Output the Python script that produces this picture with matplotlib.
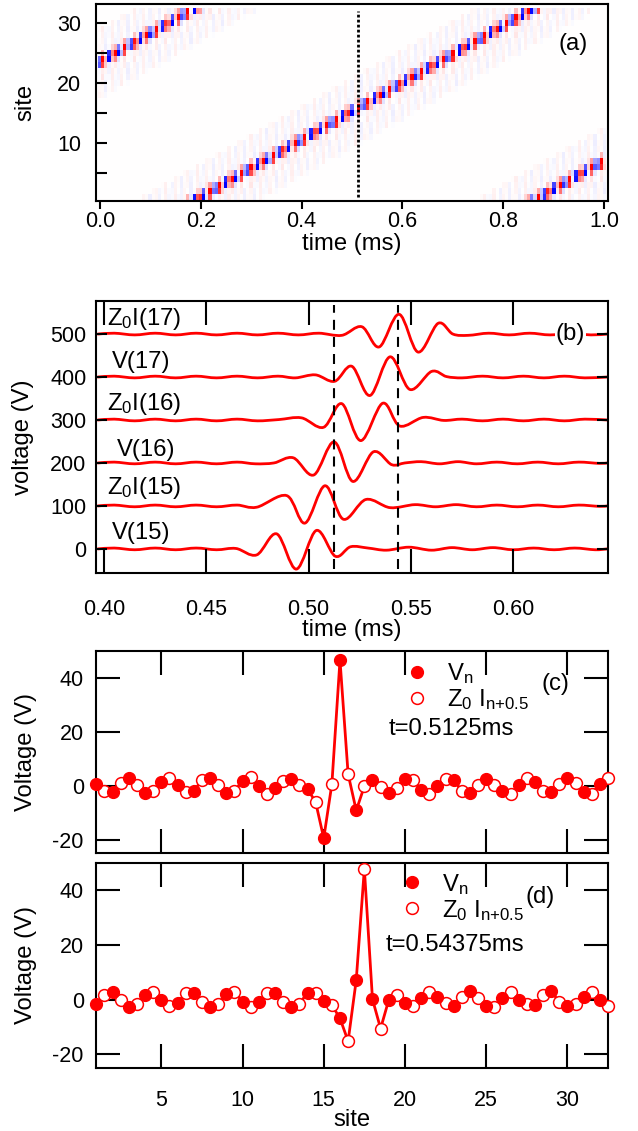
import numpy as np
import matplotlib
matplotlib.use("Agg")
import matplotlib.pyplot as plt
from matplotlib.path import Path
from matplotlib.patches import PathPatch
from matplotlib.lines import Line2D

plt.rcParams['font.family'] = ['Liberation Sans', 'DejaVu Sans']
plt.rcParams['mathtext.default'] = 'regular'
plt.rcParams['axes.unicode_minus'] = False
FS = 15.5     # tick labels
FL = 17.2     # axis labels and annotations

# ---------------- data ----------------
# panel (b): time traces (ms, V relative to offset)
t_V15 = [0.397, 0.405, 0.415, 0.425, 0.435, 0.445, 0.455, 0.4645, 0.4746, 0.4844, 0.4940, 0.5038, 0.5130,
         0.5205, 0.529, 0.538, 0.549, 0.560, 0.570, 0.580, 0.590, 0.600, 0.610, 0.620, 0.630, 0.640, 0.646]
v_V15 = [0, 2, -2, 2, -2, 2, -2, 1, -14, 35, -47, 43, -17,
         5, 2, -3, 4, -3, 3, -2, 3, -2, 2, -2, 2, -2, 0]

t_I15 = [0.397, 0.405, 0.415, 0.425, 0.435, 0.445, 0.455, 0.465, 0.4746, 0.4893, 0.4982, 0.5080, 0.5170,
         0.5280, 0.5398, 0.552, 0.562, 0.572, 0.582, 0.592, 0.602, 0.612, 0.622, 0.632, 0.642, 0.646]
v_I15 = [0, 2, -2, 2, -2, 2, -2, 2, -3, 24, -40, 47, -31,
         15, -4, 3, -2, 3, -2, 2, -2, 2, -2, 2, -1, 0]

t_V16 = [0.397, 0.405, 0.415, 0.425, 0.435, 0.445, 0.455, 0.465, 0.474, 0.483, 0.4925, 0.5025, 0.5125,
         0.5216, 0.5317, 0.5406, 0.547, 0.555, 0.564, 0.573, 0.582, 0.592, 0.602, 0.612, 0.622, 0.632,
         0.642, 0.646]
v_V16 = [0, 2, -2, 2, -2, 2, -2, 2, -2, 0, 12, -28, 49,
         -43, 26, -4, 0, 3, -2, 3, -2, 2, -2, 2, -2, 2, -1, 0]

t_I16 = [0.397, 0.405, 0.415, 0.425, 0.435, 0.445, 0.455, 0.465, 0.475, 0.4855, 0.4965, 0.5073, 0.5162,
         0.5255, 0.5362, 0.5445, 0.5560, 0.566, 0.575, 0.585, 0.595, 0.605, 0.615, 0.625, 0.635, 0.646]
v_I16 = [0, 2, -2, 2, -2, 2, -2, 2, -2, 1, 5, -17, 38,
         -48, 39, -14, 6, -1, 2, -2, 2, -2, 2, -2, 2, 0]

t_V17 = [0.397, 0.405, 0.415, 0.425, 0.435, 0.445, 0.455, 0.465, 0.475, 0.485, 0.4935, 0.5033, 0.5127,
         0.5211, 0.5300, 0.5398, 0.5495, 0.5601, 0.5674, 0.575, 0.585, 0.595, 0.605, 0.615, 0.625, 0.635,
         0.646]
v_V17 = [0, 2, -2, 2, -2, 2, -2, 2, -2, 2, -2, 5, -10,
         25, -43, 47, -29, 13, 1, -2, 2, -2, 2, -2, 2, -2, 0]

t_I17 = [0.397, 0.405, 0.415, 0.425, 0.435, 0.445, 0.455, 0.465, 0.475, 0.485, 0.495, 0.505, 0.5162,
         0.5260, 0.5345, 0.5442, 0.5535, 0.5633, 0.5705, 0.578, 0.588, 0.598, 0.608, 0.618, 0.628, 0.638,
         0.646]
v_I17 = [0, 2, -2, 2, -2, 2, -2, 2, -2, 2, -2, 2, -3,
         17, -30, 46, -42, 25, 0, -3, 2, -2, 2, -2, 2, -2, 0]

trace_offsets = [0, 100, 200, 300, 400, 500]
trace_labels = ['V(15)', 'Z$_0$I(15)', 'V(16)', 'Z$_0$I(16)', 'V(17)', 'Z$_0$I(17)']
marker_times = [0.5125, 0.54375]

# panels (c),(d): site profiles
sites = np.arange(1, 33)
half_sites = sites + 0.5
V_c = [0.5, -2.3, 2.9, -2.7, 1.2, 0.4, -1.9, 2.9, -2.7, 1.7, -0.2, -1.0, 2.5, -1.2, -19.5, 46.6,
       -9.2, 2.0, -2.7, 2.4, -1.5, -0.1, 2.0, -2.7, 2.6, -1.8, 0.2, 1.2, -2.5, 3.0, -2.3, 0.8]
I_c = [-2.1, 1.0, 0.4, -1.9, 2.9, -2.5, 2.0, 0.3, -1.9, 3.1, -3.0, 1.9, 0.4, -6.1, 0.6, 4.3,
       -0.2, -0.4, -1.0, 2.1, -3.1, 2.6, -1.9, 0.4, 0.1, -3.1, 2.9, -2.1, 0.6, 1.1, -3.0, 3.0]
V_d = [-1.6, 2.9, -2.6, 1.6, -0.2, -1.2, 2.3, -2.6, 2.0, -0.8, -0.8, 2.3, -2.6, 2.5, -0.5, -6.9,
       7.1, 0.1, -0.2, -1.4, 0.4, 0.8, -2.2, 3.1, -2.2, 0.7, 0.0, -2.0, 3.1, -2.2, 0.8, -0.2]
I_d = [1.6, -0.2, -1.8, 2.9, -2.4, 2.3, -0.8, -1.5, 2.9, -2.6, 2.5, -0.8, -1.6, 2.5, -2.0, -15.2,
       47.7, -10.6, 1.6, -2.4, 2.8, -1.4, 0.9, 0.7, -2.6, 2.9, -1.5, 1.6, -0.9, -1.5, 2.9, -2.4]

# panel (a): heat map built from the V(16) trace moving through the ring of 32 sites
heat_times = np.arange(161) * 0.00625          # sampling times (ms)
site_delay = 0.021                              # ms per site
ref_site = 16

# ---------------- helpers ----------------
def smooth_path(x, y):
    pts = np.column_stack([x, y]).astype(float)
    p = np.vstack([pts[0], pts, pts[-1]])
    verts = [pts[0]]
    codes = [Path.MOVETO]
    for i in range(1, len(p) - 2):
        p0, p1, p2, p3 = p[i - 1], p[i], p[i + 1], p[i + 2]
        verts += [p1 + (p2 - p0) / 6.0, p2 - (p3 - p1) / 6.0, p2]
        codes += [Path.CURVE4] * 3
    return Path(verts, codes)

def style_spines(ax):
    for s in ax.spines.values():
        s.set_linewidth(1.5)

# ---------------- figure ----------------
fig = plt.figure(figsize=(6.38, 11.31), dpi=100)
L, W = 0.151, 0.802
axa = fig.add_axes([L, 0.8223, W, 0.1742])
axb = fig.add_axes([L, 0.4934, W, 0.2405])
axc = fig.add_axes([L, 0.2458, W, 0.1786])
axd = fig.add_axes([L, 0.0557, W, 0.1817])

# ----- (a)
period = 32 * site_delay
grid = np.array([np.interp(heat_times - (n - ref_site) * site_delay, t_V16, v_V16, period=period)
                 for n in sites])
dt = heat_times[1] - heat_times[0]
axa.imshow(grid, cmap='bwr', vmin=-30, vmax=30, aspect='auto', origin='lower',
           extent=[heat_times[0] - dt / 2, heat_times[-1] + dt / 2, 0.5, 32.5],
           interpolation='nearest')
axa.plot([marker_times[0], marker_times[0]], [1, 32], color='black', lw=2.0, dashes=(1, 0.8))
axa.set_xlim(-0.0073, 1.0079)
axa.set_ylim(0.35, 33.2)
axa.set_xticks(np.arange(0, 1.01, 0.2))
axa.set_xticklabels(['0.0', '0.2', '0.4', '0.6', '0.8', '1.0'])
axa.set_yticks([5, 10, 15, 20, 25, 30])
axa.set_yticklabels(['', '10', '', '20', '', '30'])
axa.tick_params(axis='x', direction='out', length=6, width=1.5, labelsize=FS, pad=1, top=False)
axa.tick_params(axis='y', direction='in', length=8, width=1.5, labelsize=FS, pad=11, right=False)
axa.set_xlabel('time (ms)', fontsize=FL)
axa.set_ylabel('site', fontsize=FL)
axa.xaxis.set_label_coords(0.5, -0.16)
axa.yaxis.set_label_coords(-0.118, 0.5)
axa.text(0.9395, 26.5, '(a)', fontsize=FL, ha='center', va='center')
style_spines(axa)

# ----- (b)
traces = [(t_V15, v_V15), (t_I15, v_I15), (t_V16, v_V16), (t_I16, v_I16), (t_V17, v_V17), (t_I17, v_I17)]
for (tt, vv), off in zip(traces, trace_offsets):
    path = smooth_path(tt, np.asarray(vv) + off)
    axb.add_patch(PathPatch(path, fill=False, edgecolor='red', lw=2.0, capstyle='round', joinstyle='round'))
for mt in marker_times:
    axb.axvline(mt, ymin=0.015, ymax=0.985, color='black', lw=1.5, dashes=(4.8, 3.4))
label_pos = [(0.4038, 22), (0.4013, 127), (0.4062, 216), (0.4013, 324), (0.4038, 420), (0.4015, 520)]
for (lx, ly), lab in zip(label_pos, trace_labels):
    axb.text(lx, ly, lab, fontsize=FL, ha='left', va='baseline')
axb.text(0.6278, 499, '(b)', fontsize=FL, ha='center', va='center',
         bbox=dict(facecolor='white', edgecolor='none', pad=0.5))
axb.set_xlim(0.39624, 0.64633)
axb.set_ylim(-56, 577)
axb.set_xticks([0.40, 0.45, 0.50, 0.55, 0.60])
axb.set_xticklabels(['0.40', '0.45', '0.50', '0.55', '0.60'])
axb.set_yticks([0, 100, 200, 300, 400, 500])
axb.tick_params(axis='x', direction='in', length=17, width=1.5, labelsize=FS, pad=19, top=True)
axb.tick_params(axis='y', direction='in', length=8, width=1.5, labelsize=FS, pad=7, right=True)
axb.set_xlabel('time (ms)', fontsize=FL)
axb.set_ylabel('voltage (V)', fontsize=FL)
axb.xaxis.set_label_coords(0.5, -0.17)
axb.yaxis.set_label_coords(-0.121, 0.5)
style_spines(axb)

# ----- (c), (d)
def profile_panel(ax, V, I, tlabel, plabel, plabel_xy, leg_anchor, t_xy):
    xs = np.empty(64)
    ys = np.empty(64)
    xs[0::2] = sites
    xs[1::2] = half_sites
    ys[0::2] = V
    ys[1::2] = I
    ax.plot(xs, ys, color='red', lw=2.0, clip_on=False, zorder=2)
    ax.plot(half_sites, I, 'o', ms=8.5, mfc='white', mec='red', mew=1.1, ls='none', clip_on=False, zorder=3)
    ax.plot(sites, V, 'o', ms=8.5, color='red', ls='none', clip_on=False, zorder=4)
    h1 = Line2D([], [], marker='o', ms=8.5, color='red', ls='none')
    h2 = Line2D([], [], marker='o', ms=8.5, mfc='white', mec='red', mew=1.1, ls='none')
    ax.legend([h1, h2], ['V$_n$', 'Z$_0$ I$_{n{+}0.5}$'], loc='upper left', bbox_to_anchor=leg_anchor,
              frameon=False, fontsize=FL, handlelength=1.0, handletextpad=0.75, labelspacing=0.05,
              borderpad=0, borderaxespad=0)
    ax.text(t_xy[0], t_xy[1], tlabel, transform=ax.transAxes, fontsize=FL, ha='left', va='center')
    ax.text(plabel_xy[0], plabel_xy[1], plabel, transform=ax.transAxes, fontsize=FL, ha='center', va='center')
    ax.set_xlim(1.0, 32.5)
    ax.set_ylim(-25, 50)
    ax.set_xticks([5, 10, 15, 20, 25, 30])
    ax.set_yticks([-20, 0, 20, 40])
    ax.tick_params(axis='x', direction='in', length=17, width=1.5, labelsize=FS, pad=16, top=True)
    ax.tick_params(axis='y', direction='in', length=17, width=1.5, labelsize=FS, pad=9, right=True)
    ax.set_ylabel('Voltage (V)', fontsize=FL)
    ax.yaxis.set_label_coords(-0.115, 0.5)
    style_spines(ax)

profile_panel(axc, V_c, I_c, 't=0.5125ms', '(c)', (0.898, 0.837), (0.603, 0.95), (0.571, 0.614))
profile_panel(axd, V_d, I_d, 't=0.54375ms', '(d)', (0.868, 0.832), (0.593, 0.955), (0.566, 0.599))
axc.tick_params(axis='x', labelbottom=False)
axd.set_xlabel('site', fontsize=FL)
axd.xaxis.set_label_coords(0.5, -0.2)

fig.savefig('out.png', dpi=100)
